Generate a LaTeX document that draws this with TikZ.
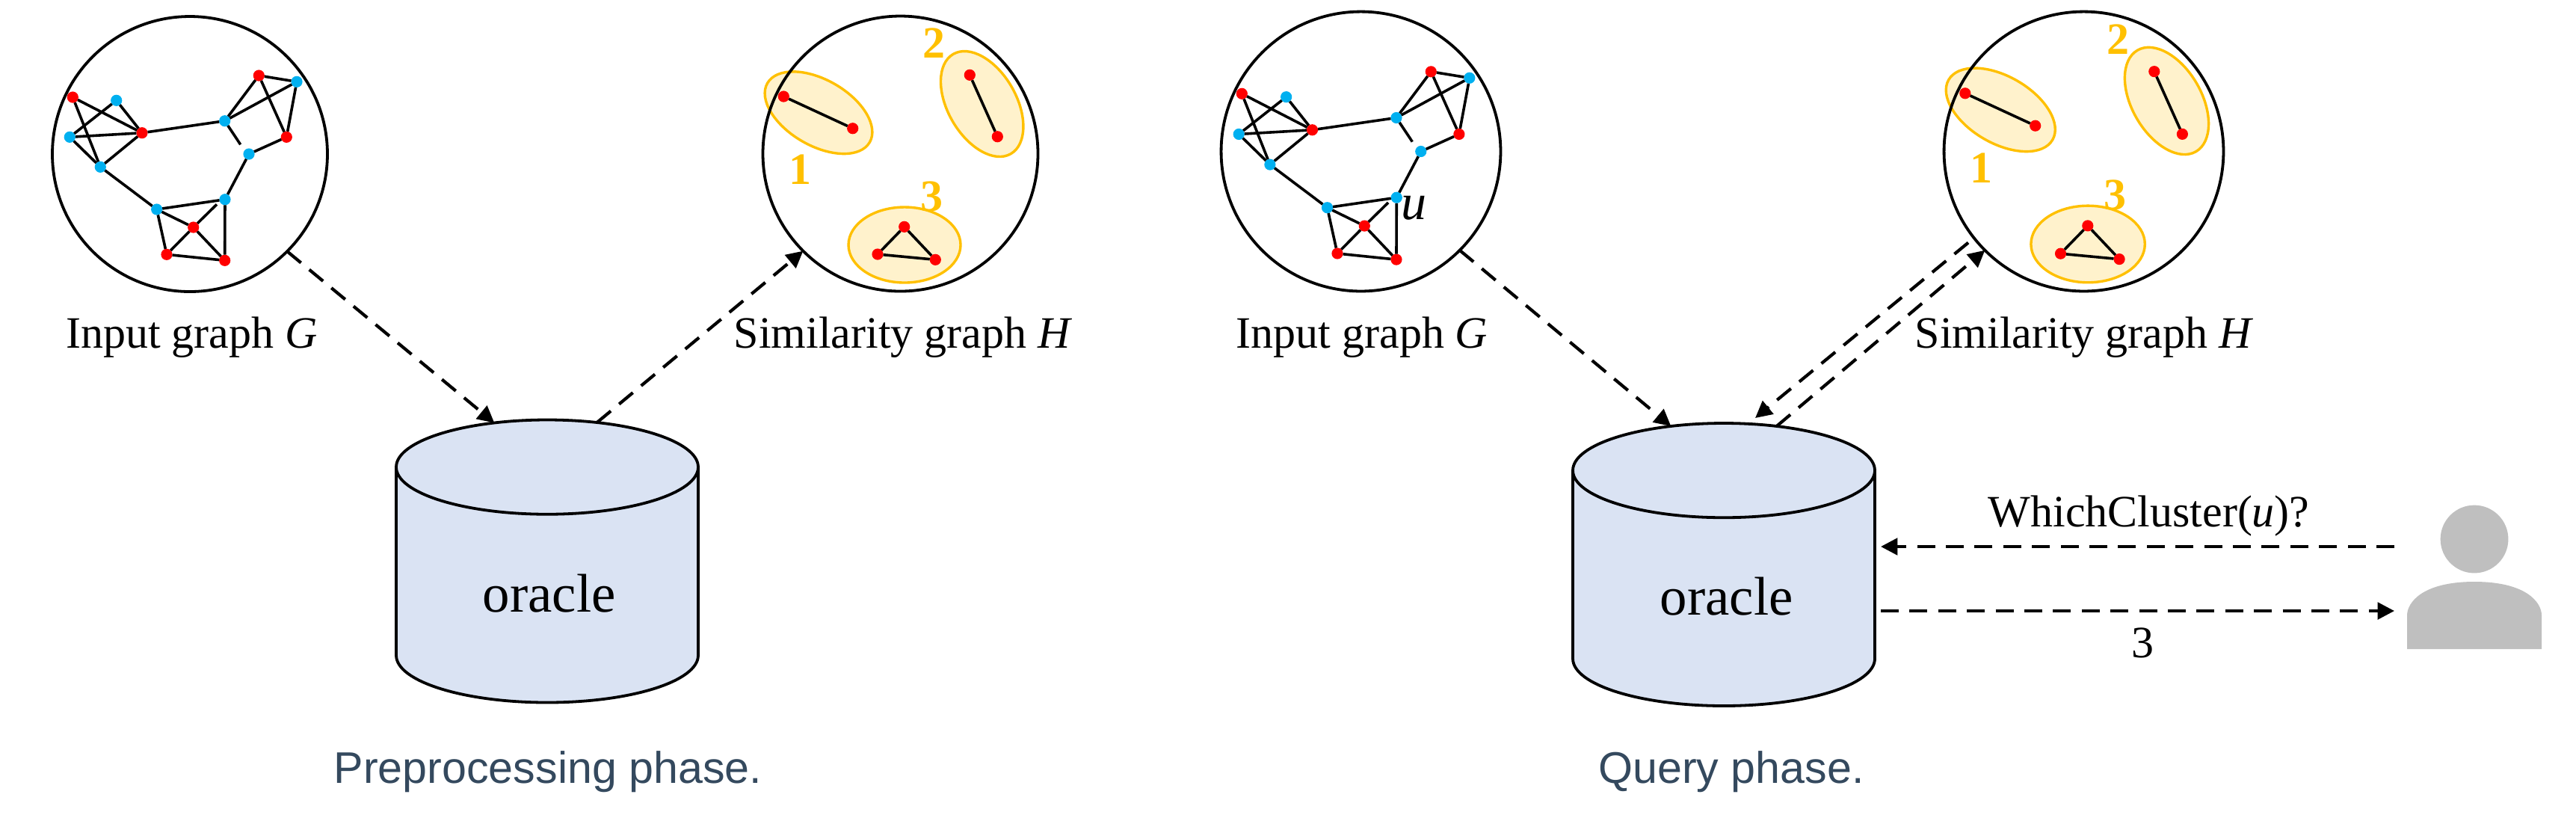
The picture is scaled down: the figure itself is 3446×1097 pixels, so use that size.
\documentclass[tikz,border=0pt]{standalone}
\usepackage{fontspec}
\setmainfont{Liberation Serif}
\newfontfamily\captionfont{Liberation Sans}
\usepackage{tikz}
\usetikzlibrary{shapes.geometric,arrows.meta}

\definecolor{oracleblue}{HTML}{DAE3F3}
\definecolor{clusterfill}{HTML}{FFF2CC}
\definecolor{clusterline}{HTML}{FFC000}
\definecolor{vertexred}{HTML}{FF0000}
\definecolor{vertexblue}{HTML}{00B0F0}
\definecolor{persongray}{HTML}{BFBFBF}
\definecolor{captiongray}{HTML}{34495E}

\tikzset{
  bigcircle/.style={draw, circle, line width=0.95pt, minimum size=92pt, inner sep=0pt, outer sep=0pt, transform shape},
  redv/.style={circle, fill=vertexred, minimum size=3.8pt, inner sep=0pt, outer sep=0pt},
  bluev/.style={circle, fill=vertexblue, minimum size=3.8pt, inner sep=0pt, outer sep=0pt},
  gedge/.style={line width=0.9pt},
  cluster/.style={draw=clusterline, fill=clusterfill, line width=0.85pt},
  clusterno/.style={text=clusterline, font=\fontsize{15}{18}\selectfont\bfseries, inner sep=0pt},
  oracle/.style={draw, shape=cylinder, shape border rotate=90, shape aspect=0.71, fill=oracleblue, line width=0.95pt, minimum width=101pt, minimum height=94.5pt, inner sep=0pt, outer sep=0pt, font=\fontsize{18.2}{22}\selectfont},
  oracletext/.style={anchor=base, inner sep=0pt, font=\fontsize{18.2}{22}\selectfont},
  lbl/.style={anchor=base, inner sep=0pt, font=\fontsize{15}{18}\selectfont},
  captext/.style={anchor=base, inner sep=0pt, text=captiongray, font=\captionfont\fontsize{14.8}{18}\selectfont},
  flow/.style={dash pattern=on 6pt off 3.6pt, line width=1.05pt, -{Triangle[length=5.6pt,width=5.6pt]}}
}

\newcommand{\inputgraph}[3]{
  \begin{scope}[shift={(#2)}, scale=#3, name prefix=#1-]
    \node[bigcircle] (ring) at (0,0) {};
    \foreach \name/\px/\py in {a/-156.7/-76, d/-64/-28.3, g/92.3/-105, i/129.3/-22.7, m/4.7/98, n/-31/134.3, o/46.7/142.3}
      \node[redv] (\name) at (\px,\py) {};
    \foreach \name/\px/\py in {b/-98.3/-71.7, c/-160.7/-22.7, e/-119.7/17.3, f/46.7/-44.3, h/143/-96.7, j/79/0, k/47/60.7, l/-44.3/74}
      \node[bluev] (\name) at (\px,\py) {};
    \coordinate (stubf) at (67.7,-12.7);
    \coordinate (stubm) at (36,67.3);
    \foreach \from/\to in {a/d, a/e, b/c, b/d, c/d, c/e, d/e, d/f, e/l, f/g, f/h, g/h, g/i, h/i, f/stubf, i/j, j/k, k/l, l/m, l/n, m/stubm, m/n, m/o, n/o, k/o}
      \path[gedge] (\from) edge (\to);
  \end{scope}
}

\newcommand{\similaritygraph}[3]{
  \begin{scope}[shift={(#2)}, scale=#3, name prefix=#1-]
    \draw[cluster, shift={(-109.5,-54.8)}, rotate=-30] (0,0) circle[x radius=79, y radius=-44];
    \draw[cluster, shift={(109.2,-66.5)}, rotate=-60] (0,0) circle[x radius=77, y radius=-45.7];
    \draw[cluster, shift={(5.5,122)}] (0,0) circle[x radius=75, y radius=-50.5];
    \node[bigcircle] (ring) at (0,0) {};
    \foreach \name/\px/\py in {p/-156.2/-76.5, q/-63.8/-33.8, r/92.8/-105.2, s/129.8/-22.8, t/5.2/97.8, v/-30.5/134.5, w/46.8/141.8}
      \node[redv] (\name) at (\px,\py) {};
    \foreach \from/\to in {p/q, r/s, t/v, t/w, v/w}
      \path[gedge] (\from) edge (\to);
    \node[clusterno] (one) at (-134.5,21.5) {1};
    \node[clusterno] (two) at (44.8,-147.5) {2};
    \node[clusterno] (three) at (41.5,57.5) {3};
  \end{scope}
}

\begin{document}
\begin{tikzpicture}[x=0.25pt, y=-0.25pt]
  \useasboundingbox (0,0) rectangle (3446,1097);

  \inputgraph{gl}{254,206}{1}
  \similaritygraph{hl}{1204.5,205.5}{1}
  \inputgraph{gr}{1820.5,202.5}{1.016}
  \similaritygraph{hr}{2787.5,202.5}{1.016}

  \node[oracle] (oraclel) at (732,783) {\phantom{oracle}};
  \node[oracle] (oracler) at (2306,787.5) {\phantom{oracle}};
  \node[oracletext] (oracletextl) at (734.7,818) {oracle};
  \node[oracletext] (oracletextr) at (2309.6,822) {oracle};

  \node[lbl] (ginl) at (256.5,465) {Input graph \textit{G}};
  \node[lbl] (hinl) at (1208,465) {Similarity graph \textit{H}};
  \node[lbl] (ginr) at (1822,465) {Input graph \textit{G}};
  \node[lbl] (hinr) at (2788,465) {Similarity graph \textit{H}};
  \node[lbl, font=\fontsize{17}{20}\selectfont] (ulabel) at (1891.7,293) {\textit{u}};
  \node[lbl] (asklabel) at (2874.6,704) {WhichCluster(\textit{u})?};
  \node[lbl] (anslabel) at (2866.6,879) {3};
  \node[captext] (prephase) at (733,1047) {Preprocessing phase.};
  \node[captext] (queryphase) at (2316,1047) {Query phase.};

  \node[circle, fill=persongray, minimum size=22.7pt, inner sep=0pt] (head) at (3310,721) {};
  \fill[persongray] (3220,868) -- (3220,823) .. controls (3220,806) and (3240,778) .. (3310,778)
    .. controls (3380,778) and (3400,806) .. (3400,823) -- (3400,868) -- cycle;

  \coordinate (ask) at (3203,731);
  \coordinate (ans) at (3203,817);
  \coordinate (askend) at (2516,731);
  \coordinate (ansstart) at (2516,817);
  \coordinate (backstart) at (2633,324.5);
  \coordinate (backtip) at (2348,559);

  \path[flow]
  (gl-ring.-45) edge (oraclel.108)
  (oraclel.73) edge (hl-ring.225)
  (gr-ring.-45) edge (oracler.108)
  (oracler.72) edge (hr-ring.225)
  (backstart) edge (backtip)
  (ask) edge (askend)
  (ansstart) edge (ans)
  ;
\end{tikzpicture}
\end{document}
